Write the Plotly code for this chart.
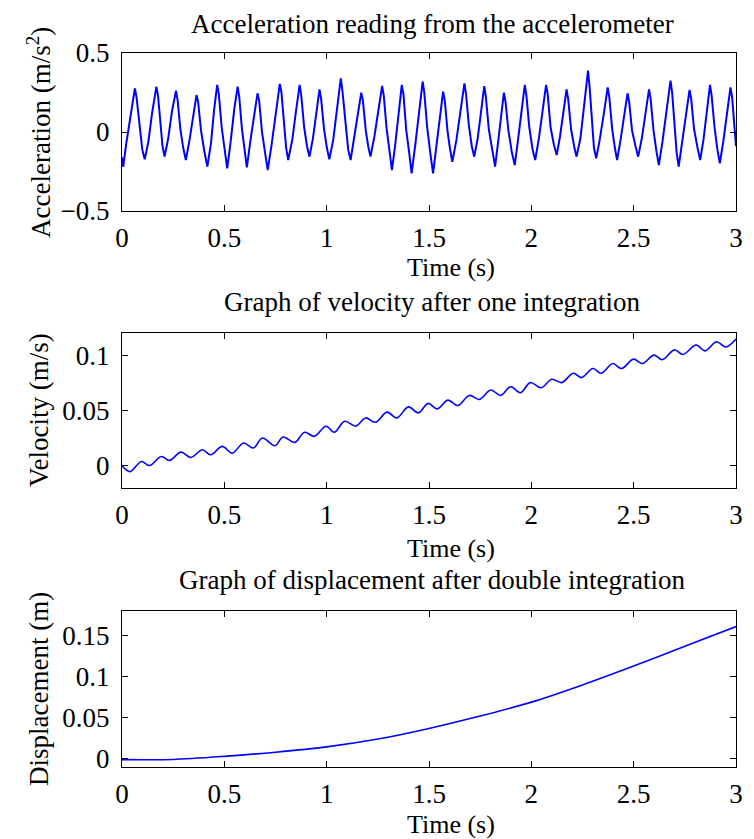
import plotly.graph_objects as go
from plotly.subplots import make_subplots

# acceleration samples (trough, rise, rise, peak, notch, fall, shoulder per cycle)
acc_time = [
    0.000, 0.006, 0.020, 0.036, 0.050, 0.063, 0.071, 0.085, 0.099,
    0.111, 0.129, 0.147, 0.168, 0.176, 0.188, 0.198,
    0.208, 0.226, 0.244, 0.264, 0.272, 0.285, 0.299,
    0.312, 0.330, 0.348, 0.364, 0.372, 0.386, 0.402,
    0.417, 0.435, 0.450, 0.465, 0.473, 0.487, 0.502,
    0.514, 0.531, 0.549, 0.565, 0.573, 0.586, 0.599,
    0.610, 0.628, 0.646, 0.662, 0.670, 0.684, 0.700,
    0.712, 0.731, 0.752, 0.771, 0.779, 0.792, 0.802,
    0.812, 0.832, 0.850, 0.868, 0.876, 0.890, 0.904,
    0.916, 0.933, 0.950, 0.965, 0.973, 0.987, 1.001,
    1.013, 1.032, 1.052, 1.069, 1.077, 1.091, 1.105,
    1.117, 1.134, 1.152, 1.169, 1.177, 1.191, 1.203,
    1.214, 1.233, 1.253, 1.271, 1.279, 1.293, 1.307,
    1.319, 1.335, 1.352, 1.367, 1.375, 1.389, 1.404,
    1.415, 1.434, 1.452, 1.469, 1.477, 1.491, 1.508,
    1.520, 1.537, 1.554, 1.569, 1.577, 1.591, 1.603,
    1.614, 1.634, 1.655, 1.673, 1.681, 1.695, 1.709,
    1.721, 1.738, 1.755, 1.770, 1.778, 1.792, 1.810,
    1.823, 1.838, 1.852, 1.866, 1.874, 1.888, 1.905,
    1.919, 1.935, 1.952, 1.968, 1.976, 1.990, 2.006,
    2.019, 2.037, 2.056, 2.072, 2.080, 2.094, 2.110,
    2.124, 2.140, 2.157, 2.172, 2.180, 2.194, 2.209,
    2.221, 2.240, 2.260, 2.277, 2.285, 2.299, 2.306,
    2.317, 2.334, 2.356, 2.373, 2.381, 2.395, 2.408,
    2.419, 2.436, 2.454, 2.470, 2.478, 2.492, 2.509,
    2.522, 2.540, 2.559, 2.575, 2.583, 2.597, 2.611,
    2.623, 2.641, 2.662, 2.680, 2.688, 2.700, 2.710,
    2.720, 2.737, 2.756, 2.773, 2.781, 2.795, 2.812,
    2.825, 2.841, 2.858, 2.873, 2.881, 2.895, 2.909,
    2.921, 2.938, 2.957, 2.973, 2.981, 2.992, 3.000,
]
acc_value = [
    -0.16, -0.22, -0.08, 0.05, 0.18, 0.276, 0.22, 0.03, -0.11,
    -0.173, -0.06, 0.12, 0.287, 0.23, 0.04, -0.09,
    -0.156, -0.04, 0.13, 0.262, 0.20, 0.02, -0.10,
    -0.177, -0.05, 0.10, 0.234, 0.19, 0.01, -0.12,
    -0.219, -0.07, 0.14, 0.298, 0.24, 0.03, -0.13,
    -0.230, -0.06, 0.15, 0.287, 0.22, 0.02, -0.12,
    -0.224, -0.05, 0.11, 0.245, 0.20, 0.00, -0.14,
    -0.241, -0.08, 0.14, 0.304, 0.25, 0.04, -0.10,
    -0.177, -0.05, 0.13, 0.298, 0.23, 0.03, -0.09,
    -0.156, -0.04, 0.12, 0.270, 0.21, 0.02, -0.10,
    -0.173, -0.05, 0.16, 0.340, 0.26, 0.05, -0.11,
    -0.177, -0.04, 0.11, 0.249, 0.20, 0.01, -0.09,
    -0.156, -0.03, 0.13, 0.291, 0.23, 0.02, -0.12,
    -0.241, -0.08, 0.14, 0.298, 0.24, 0.01, -0.14,
    -0.262, -0.07, 0.15, 0.319, 0.25, 0.03, -0.15,
    -0.262, -0.08, 0.10, 0.255, 0.20, 0.00, -0.11,
    -0.188, -0.05, 0.14, 0.308, 0.24, 0.04, -0.09,
    -0.156, -0.04, 0.13, 0.291, 0.22, 0.02, -0.12,
    -0.219, -0.06, 0.10, 0.249, 0.19, 0.01, -0.13,
    -0.209, -0.05, 0.14, 0.298, 0.23, 0.03, -0.11,
    -0.177, -0.04, 0.13, 0.298, 0.24, 0.03, -0.08,
    -0.146, -0.03, 0.12, 0.270, 0.21, 0.02, -0.09,
    -0.156, -0.04, 0.18, 0.388, 0.28, 0.06, -0.10,
    -0.167, -0.05, 0.13, 0.283, 0.22, 0.02, -0.10,
    -0.177, -0.05, 0.10, 0.245, 0.19, 0.01, -0.09,
    -0.156, -0.04, 0.12, 0.270, 0.21, 0.01, -0.12,
    -0.209, -0.06, 0.15, 0.325, 0.25, 0.04, -0.13,
    -0.219, -0.07, 0.11, 0.266, 0.21, 0.02, -0.10,
    -0.177, -0.05, 0.13, 0.298, 0.23, 0.03, -0.11,
    -0.198, -0.06, 0.12, 0.283, 0.22, 0.05, -0.09,
]

# velocity: local minima / maxima of the ripple
vel_time = [
    0.000, 0.039, 0.095, 0.135, 0.192, 0.232, 0.288, 0.337, 0.393, 0.433,
    0.490, 0.538, 0.594, 0.642, 0.686, 0.747, 0.787, 0.844, 0.892, 0.940,
    0.997, 1.037, 1.088, 1.142, 1.190, 1.238, 1.295, 1.343, 1.399, 1.448,
    1.496, 1.540, 1.593, 1.641, 1.697, 1.746, 1.802, 1.850, 1.899, 1.947,
    1.995, 2.048, 2.100, 2.148, 2.205, 2.245, 2.301, 2.341, 2.398, 2.441,
    2.499, 2.543, 2.599, 2.640, 2.699, 2.741, 2.805, 2.849, 2.905, 2.950,
    3.000,
]
vel_value = [
    0.0000, -0.0052, 0.0039, 0.0003, 0.0085, 0.0048, 0.0124, 0.0076, 0.0145, 0.0100,
    0.0176, 0.0115, 0.0206, 0.0161, 0.0252, 0.0182, 0.0261, 0.0212, 0.0303, 0.0267,
    0.0358, 0.0303, 0.0403, 0.0358, 0.0433, 0.0394, 0.0485, 0.0433, 0.0533, 0.0479,
    0.0564, 0.0515, 0.0594, 0.0545, 0.0636, 0.0600, 0.0685, 0.0636, 0.0715, 0.0661,
    0.0752, 0.0706, 0.0782, 0.0752, 0.0836, 0.0797, 0.0879, 0.0836, 0.0924, 0.0879,
    0.0964, 0.0924, 0.1000, 0.0958, 0.1048, 0.1006, 0.1091, 0.1039, 0.1121, 0.1073,
    0.1145,
]

disp_time = [0, 0.25, 0.5, 0.75, 1.0, 1.25, 1.5, 1.75, 2.0, 2.25, 2.5, 2.75, 3.0]
disp_value = [-0.001, -0.0008, 0.003, 0.008, 0.0145, 0.024, 0.037, 0.052, 0.069, 0.090, 0.113, 0.137, 0.161]

x_ticks = [0, 0.5, 1, 1.5, 2, 2.5, 3]
x_ticktext = ['0', '0.5', '1', '1.5', '2', '2.5', '3']

FONT = 'Liberation Serif'
BLUE = '#0000ff'

fig = make_subplots(rows=3, cols=1)
fig.add_trace(go.Scatter(x=acc_time, y=acc_value, mode='lines',
                         line=dict(color=BLUE, width=2)), row=1, col=1)
fig.add_trace(go.Scatter(x=vel_time, y=vel_value, mode='lines',
                         line=dict(color=BLUE, width=1.6, shape='spline', smoothing=1.0)), row=2, col=1)
fig.add_trace(go.Scatter(x=disp_time, y=disp_value, mode='lines',
                         line=dict(color=BLUE, width=1.6, shape='spline', smoothing=0.8)), row=3, col=1)

# the page body adds 8px, so the figure is 8px smaller and all positions are in page pixels
OFF = 8
W, HT = 754 - OFF, 839 - OFF
left, right, top, bottom = 122, 743, 53, 767   # plot area in page pixels
PW, PH = right - left, bottom - top

def fy(py):
    return (bottom - py) / PH

def fx(px):
    return (px - left) / PW

domains = [(fy(211), 1.0), (fy(488), fy(333)), (0.0, fy(611))]
y_ranges = [[-0.5, 0.5], [-0.02, 0.12], [-0.01, 0.18]]
y_ticks = [[-0.5, 0, 0.5], [0, 0.05, 0.1], [0, 0.05, 0.1, 0.15]]
y_ticktext = [['\u22120.5', '0', '0.5'], ['0', '0.05', '0.1'], ['0', '0.05', '0.1', '0.15']]
y_titles = ['Acceleration (m/s<sup>2</sup>)', 'Velocity (m/s)', 'Displacement (m)']

axis_common = dict(showgrid=False, zeroline=False, showline=True, linecolor='black', linewidth=1,
                   mirror='allticks', ticks='inside', ticklen=6, tickcolor='black',
                   tickfont=dict(family=FONT, size=27, color='black'))

for i in range(3):
    fig.update_xaxes(range=[0, 3], tickvals=x_ticks, ticktext=x_ticktext, ticklabelstandoff=3,
                     row=i + 1, col=1, **axis_common)
    fig.update_yaxes(range=y_ranges[i], tickvals=y_ticks[i], ticktext=y_ticktext[i], domain=list(domains[i]),
                     ticklabelstandoff=6, row=i + 1, col=1, **axis_common)

titles = ['Acceleration reading from the accelerometer',
          'Graph of velocity after one integration',
          'Graph of displacement after double integration']
title_y = [24, 302, 580]
for t, py in zip(titles, title_y):
    fig.add_annotation(text=t, x=fx(436), xref='paper', y=fy(py), yref='paper',
                       showarrow=False, xanchor='center', yanchor='middle',
                       font=dict(family=FONT, size=27, color='black'))

# x axis labels
for py in [267, 548, 824]:
    fig.add_annotation(text='Time (s)', x=fx(455), xref='paper', y=fy(py), yref='paper',
                       showarrow=False, xanchor='center', yanchor='middle',
                       font=dict(family=FONT, size=26, color='black'))

# y axis labels
for t, py in zip(y_titles, [132, 410, 689]):
    fig.add_annotation(text=t, x=fx(38), xref='paper', y=fy(py), yref='paper', textangle=-90,
                       showarrow=False, xanchor='center', yanchor='middle',
                       font=dict(family=FONT, size=27, color='black'))

fig.update_layout(width=W, height=HT, showlegend=False,
                  margin=dict(l=left - OFF, r=754 - right, t=top - OFF, b=839 - bottom),
                  plot_bgcolor='white', paper_bgcolor='white')

fig.write_html("out.html")
